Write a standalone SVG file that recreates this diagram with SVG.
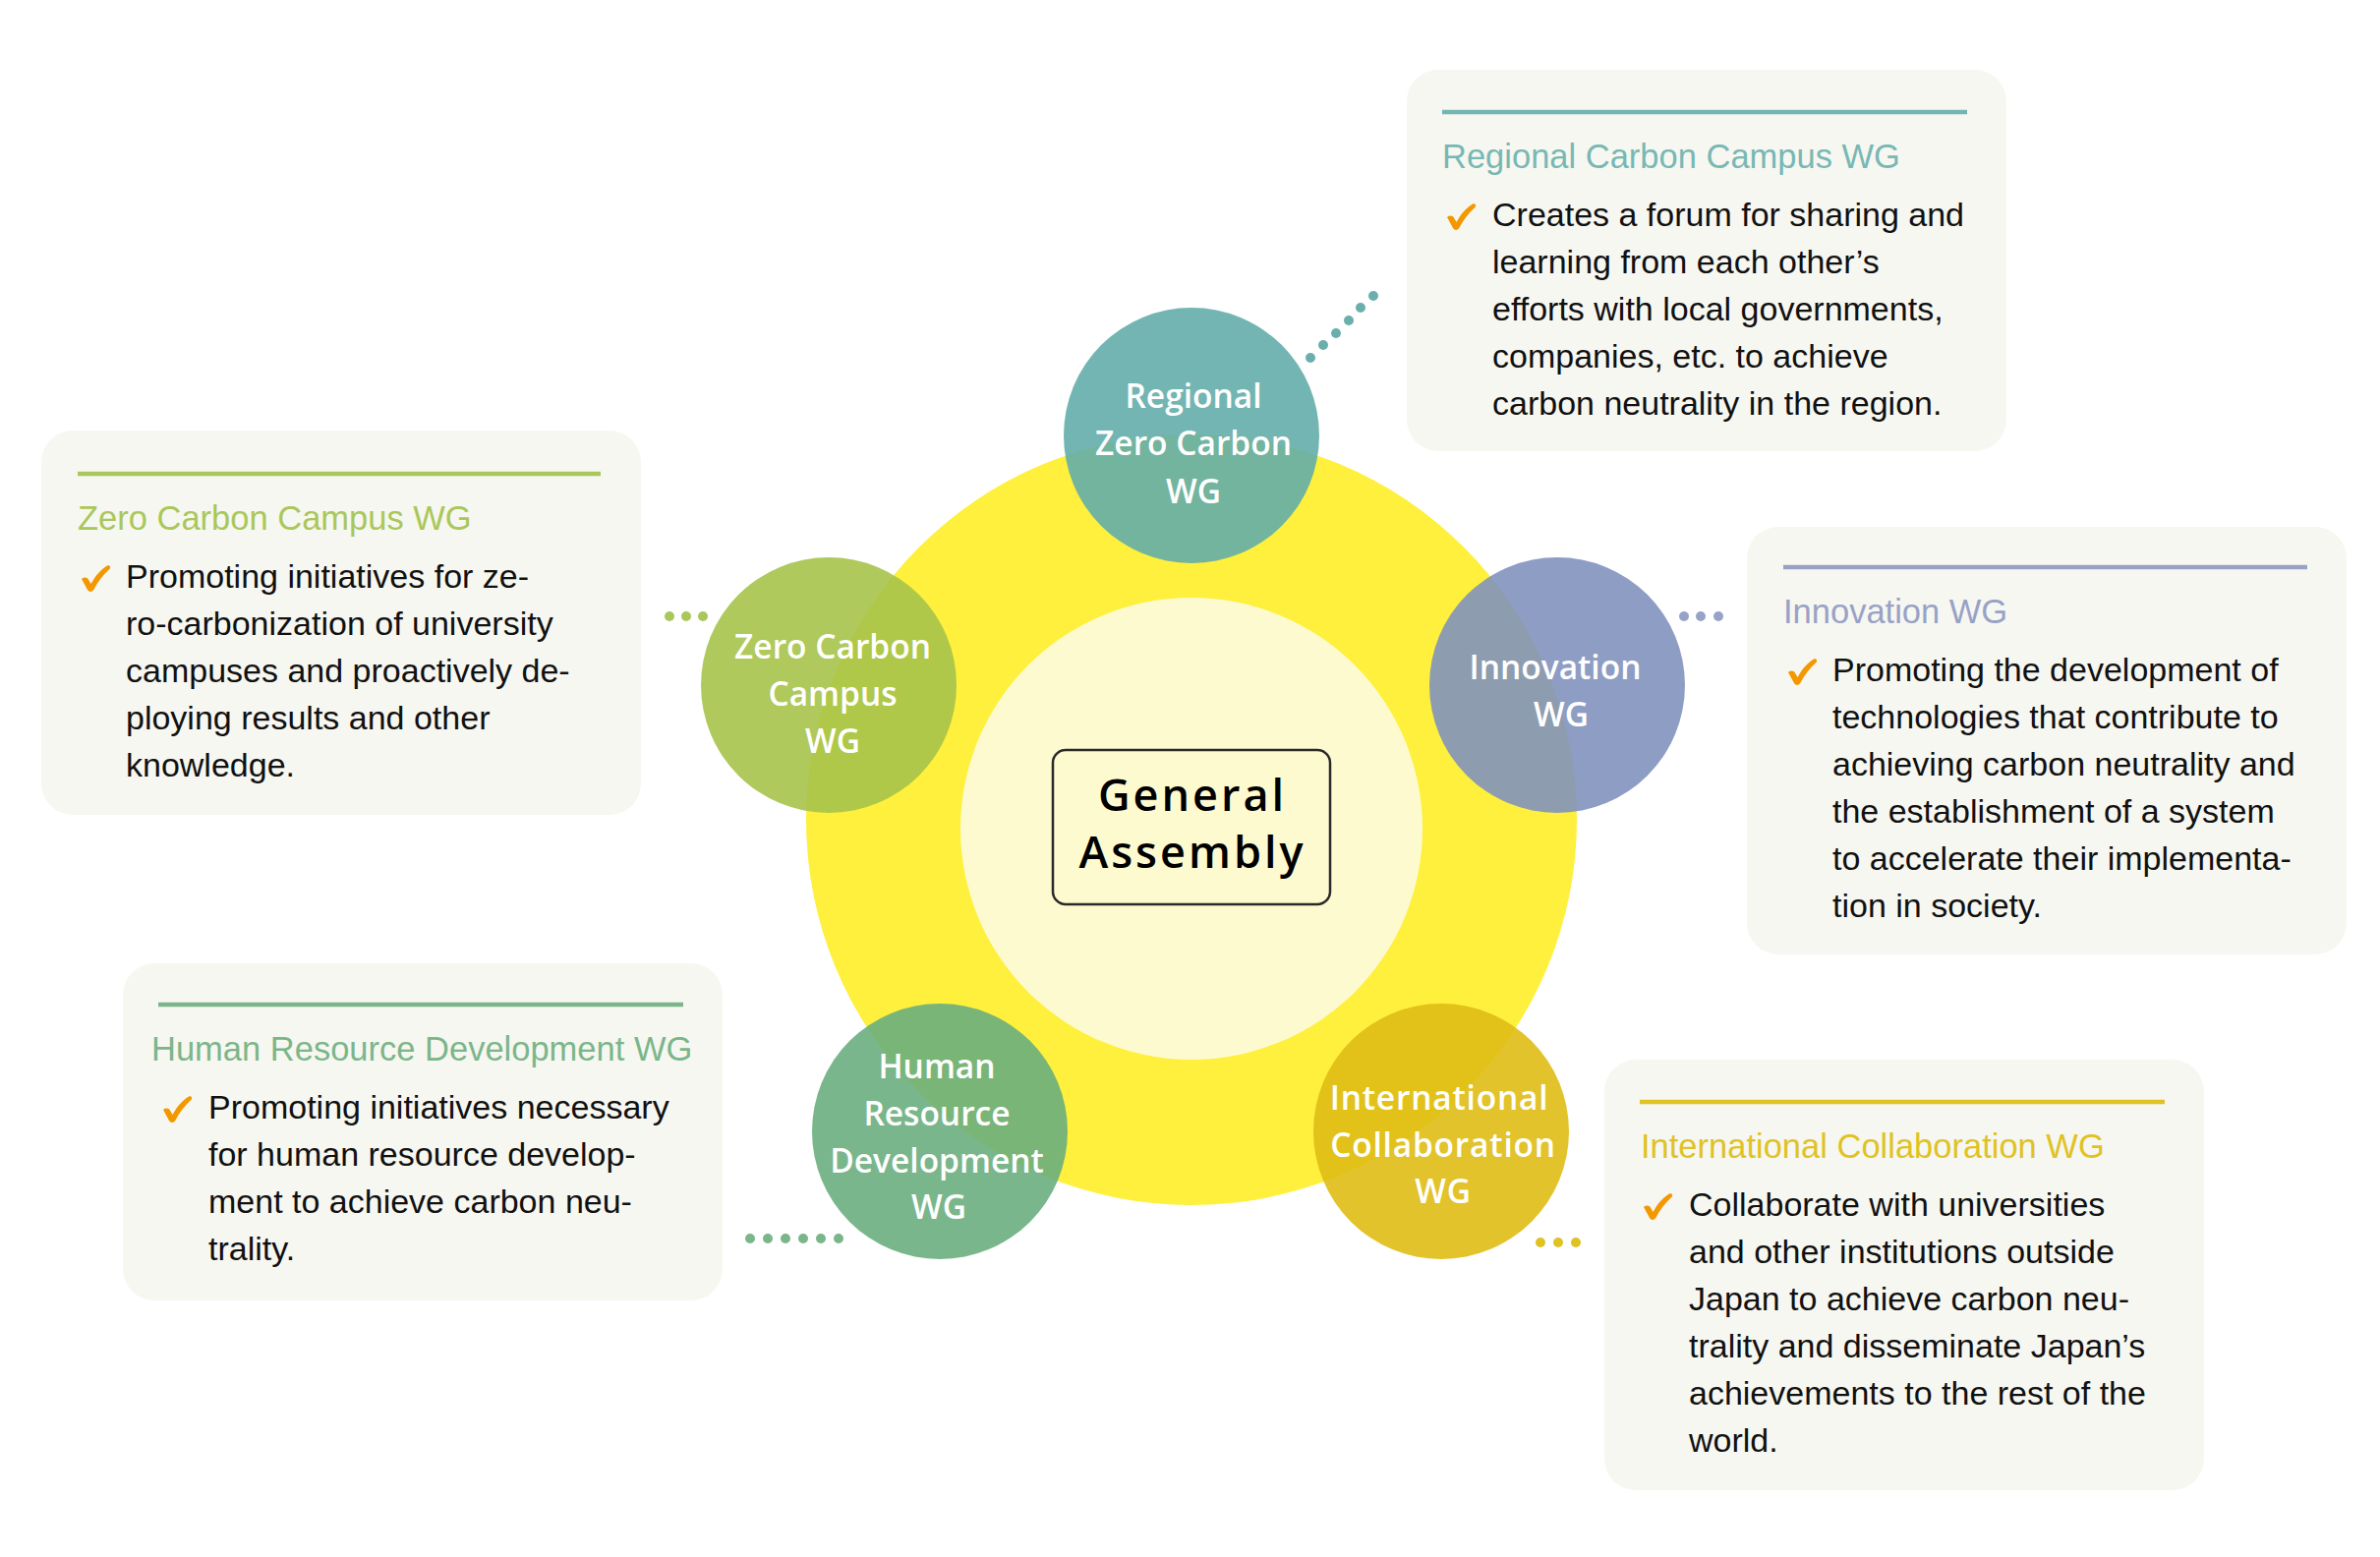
<svg xmlns="http://www.w3.org/2000/svg" width="2421" height="1584" viewBox="0 0 2421 1584">
<style>
.card{fill:#f7f7f1}
.rule{stroke-width:4.5;fill:none}
.title{font-family:"Liberation Sans",Arial,sans-serif;font-size:34.5px}
.body{font-family:"Liberation Sans",Arial,sans-serif;font-size:34px;fill:#111}
.ctext{font-family:"Open Sans","Noto Sans",sans-serif;font-size:33.5px;font-weight:600;fill:#fff;text-anchor:middle}
.wg{fill-opacity:0.9}
</style>
<defs>
<path id="chk" fill="#f39800" d="M0,13 C2.5,10.8 5.8,11.3 7.2,14 L9.6,18 C14,9.5 20,3 26,-0.5 C28.5,-1.6 30.2,1 28.6,2.8 C21.5,9.5 16,16.5 12.6,23.5 C11,26.6 7.5,26.6 6,24 Z"/>
</defs>
<rect width="2421" height="1584" fill="#fff"/>

<g id="core">
<circle cx="1212" cy="834" r="392" fill="#fef03c"/>
<circle cx="1212" cy="843" r="235" fill="#fefacf"/>
</g>

<g id="connectors">
<g fill="#6aafac">
<circle cx="1333" cy="364" r="5"/><circle cx="1346" cy="351" r="5"/><circle cx="1359" cy="339" r="5"/><circle cx="1372" cy="326" r="5"/><circle cx="1384" cy="313" r="5"/><circle cx="1397" cy="301" r="5"/>
</g>
<g fill="#a9c75a">
<circle cx="681" cy="627" r="5"/><circle cx="698" cy="627" r="5"/><circle cx="715" cy="627" r="5"/>
</g>
<g fill="#98a2c6">
<circle cx="1713" cy="627" r="5"/><circle cx="1730" cy="627" r="5"/><circle cx="1748" cy="627" r="5"/>
</g>
<g fill="#7bb68a">
<circle cx="763" cy="1260" r="5"/><circle cx="781" cy="1260" r="5"/><circle cx="799" cy="1260" r="5"/><circle cx="817" cy="1260" r="5"/><circle cx="835" cy="1260" r="5"/><circle cx="853" cy="1260" r="5"/>
</g>
<g fill="#e0c225">
<circle cx="1567" cy="1264" r="5"/><circle cx="1585" cy="1264" r="5"/><circle cx="1603" cy="1264" r="5"/>
</g>
</g>

<g id="general-assembly">
<rect x="1071" y="763" width="282" height="157" rx="13" fill="#fefacf" stroke="#2a2a2a" stroke-width="2.5"/>
<text font-family="'Open Sans','Noto Sans',sans-serif" font-size="45" font-weight="600" letter-spacing="3" text-anchor="middle" fill="#000"><tspan x="1213" y="825">General</tspan><tspan x="1213" y="883">Assembly</tspan></text>
</g>

<g id="wg-regional">
<circle class="wg" cx="1212" cy="443" r="130" fill="#64adaa"/>
<text class="ctext"><tspan x="1214" y="415">Regional</tspan><tspan x="1214" y="463">Zero Carbon</tspan><tspan x="1214" y="512">WG</tspan></text>
</g>
<g id="wg-zero-carbon">
<circle class="wg" cx="843" cy="697" r="130" fill="#a6c34a"/>
<text class="ctext"><tspan x="847" y="670">Zero Carbon</tspan><tspan x="847" y="718">Campus</tspan><tspan x="847" y="766">WG</tspan></text>
</g>
<g id="wg-innovation">
<circle class="wg" cx="1584" cy="697" r="130" fill="#8292bd"/>
<text class="ctext"><tspan x="1582" y="691">Innovation</tspan><tspan x="1588" y="739">WG</tspan></text>
</g>
<g id="wg-human-resource">
<circle class="wg" cx="956" cy="1151" r="130" fill="#6cae7e"/>
<text class="ctext"><tspan x="953" y="1097">Human</tspan><tspan x="953" y="1145">Resource</tspan><tspan x="953" y="1193">Development</tspan><tspan x="955" y="1240">WG</tspan></text>
</g>
<g id="wg-international">
<circle class="wg" cx="1466" cy="1151" r="130" fill="#dfbd15"/>
<text class="ctext" letter-spacing="0.8"><tspan x="1464" y="1129">International</tspan><tspan x="1468" y="1177">Collaboration</tspan><tspan x="1468" y="1224">WG</tspan></text>
</g>

<g id="card-regional">
<rect class="card" x="1431" y="71" width="610" height="388" rx="32"/>
<line class="rule" x1="1467" y1="114" x2="2001" y2="114" stroke="#72b5b1"/>
<text class="title" x="1467" y="171" fill="#78b8b4">Regional Carbon Campus WG</text>
<use href="#chk" x="1472" y="208"/>
<text class="body"><tspan x="1518" y="230">Creates a forum for sharing and</tspan><tspan x="1518" y="278">learning from each other’s</tspan><tspan x="1518" y="326">efforts with local governments,</tspan><tspan x="1518" y="374">companies, etc. to achieve</tspan><tspan x="1518" y="422">carbon neutrality in the region.</tspan></text>
</g>

<g id="card-zero-carbon">
<rect class="card" x="42" y="438" width="610" height="391" rx="32"/>
<line class="rule" x1="79" y1="482" x2="611" y2="482" stroke="#a9c75a"/>
<text class="title" x="79" y="539" fill="#a9c75a">Zero Carbon Campus WG</text>
<use href="#chk" x="83" y="576"/>
<text class="body"><tspan x="128" y="598">Promoting initiatives for ze-</tspan><tspan x="128" y="646">ro-carbonization of university</tspan><tspan x="128" y="694">campuses and proactively de-</tspan><tspan x="128" y="742">ploying results and other</tspan><tspan x="128" y="790">knowledge.</tspan></text>
</g>

<g id="card-innovation">
<rect class="card" x="1777" y="536" width="610" height="435" rx="32"/>
<line class="rule" x1="1814" y1="577" x2="2347" y2="577" stroke="#98a2c6"/>
<text class="title" x="1814" y="634" fill="#98a2c6">Innovation WG</text>
<use href="#chk" x="1819" y="671"/>
<text class="body"><tspan x="1864" y="693">Promoting the development of</tspan><tspan x="1864" y="741">technologies that contribute to</tspan><tspan x="1864" y="789">achieving carbon neutrality and</tspan><tspan x="1864" y="837">the establishment of a system</tspan><tspan x="1864" y="885">to accelerate their implementa-</tspan><tspan x="1864" y="933">tion in society.</tspan></text>
</g>

<g id="card-human-resource">
<rect class="card" x="125" y="980" width="610" height="343" rx="32"/>
<line class="rule" x1="161" y1="1022" x2="695" y2="1022" stroke="#7bb68a"/>
<text class="title" x="154" y="1079" fill="#7bb68a">Human Resource Development WG</text>
<use href="#chk" x="166" y="1116"/>
<text class="body"><tspan x="212" y="1138">Promoting initiatives necessary</tspan><tspan x="212" y="1186">for human resource develop-</tspan><tspan x="212" y="1234">ment to achieve carbon neu-</tspan><tspan x="212" y="1282">trality.</tspan></text>
</g>

<g id="card-international">
<rect class="card" x="1632" y="1078" width="610" height="438" rx="32"/>
<line class="rule" x1="1668" y1="1121" x2="2202" y2="1121" stroke="#e0c225"/>
<text class="title" x="1669" y="1178" fill="#e0c225">International Collaboration WG</text>
<use href="#chk" x="1672" y="1215"/>
<text class="body"><tspan x="1718" y="1237">Collaborate with universities</tspan><tspan x="1718" y="1285">and other institutions outside</tspan><tspan x="1718" y="1333">Japan to achieve carbon neu-</tspan><tspan x="1718" y="1381">trality and disseminate Japan’s</tspan><tspan x="1718" y="1429">achievements to the rest of the</tspan><tspan x="1718" y="1477">world.</tspan></text>
</g>
</svg>
